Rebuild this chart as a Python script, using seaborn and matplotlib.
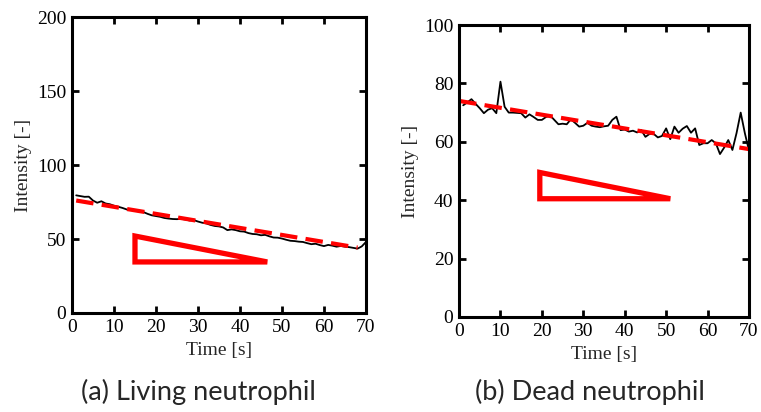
import numpy as np
import pandas as pd
import matplotlib
matplotlib.use("Agg")
import matplotlib.pyplot as plt
import seaborn as sns

# time axis (s)
time_s = list(range(1, 71))

# (a) living neutrophil intensity
living = [79.5, 79, 78.5, 78.6, 76, 74.5, 75.5, 74, 73.5, 72.5,
          71.8, 71, 70, 69.6, 69.4, 68.5, 68.2, 67, 66, 65.5,
          65, 64.2, 63.8, 63.5, 63.4, 63.6, 63.2, 62.5, 62.8, 61.8,
          61, 60.5, 59.5, 58.8, 58.5, 57.8, 56, 56.5, 56, 55.2,
          55, 54, 53.4, 53.2, 52.5, 52.8, 51.8, 51, 50.9, 50.3,
          49.5, 48.8, 48.6, 48.2, 48, 47.2, 46.5, 46.8, 45.9, 45.2,
          46, 45.5, 44.8, 45.3, 44.8, 44.5, 44, 43.5, 45, 48]

# (b) dead neutrophil intensity
dead = [72.5, 73.5, 74.6, 73, 71.5, 69.8, 71, 71.5, 69.8, 80.6,
        72, 70, 70, 69.9, 69.8, 68.3, 69.4, 68.5, 67.5, 67.5,
        68.5, 69, 67.5, 66, 66.2, 66, 67.7, 66.5, 65.2, 65.5,
        66.5, 65.5, 65.2, 65, 65.3, 65.5, 67.5, 68.6, 64, 64.2,
        63.5, 63.8, 63.2, 64, 61.7, 62.7, 62.7, 61.5, 62, 64.6,
        60.9, 65.2, 63.1, 64.5, 65.4, 63.1, 64.6, 58.9, 59.5, 59.5,
        60.6, 59.5, 55.8, 58, 60.6, 57.2, 63, 70, 63, 57]

# linear fits (red dashed)
fit_a_t = [1, 68]
fit_a_y = [76, 44.2]
fit_b_t = [0, 70]
fit_b_y = [74, 57.5]

# slope triangles
tri_a_t = [15, 15, 46.5]
tri_a_y = [52, 34.5, 34.5]
tri_b_t = [19.5, 19.5, 51]
tri_b_y = [49.5, 40.5, 40.5]

sns.set_style("ticks")
plt.rcParams['font.family'] = ['Liberation Serif', 'DejaVu Serif']

fig = plt.figure(figsize=(7.61, 4.12), dpi=100)
ax_a = fig.add_axes([0.0946, 0.2403, 0.3863, 0.7184])
ax_b = fig.add_axes([0.6032, 0.2306, 0.3810, 0.7087])

panels = [
    (ax_a, living, fit_a_t, fit_a_y, tri_a_t, tri_a_y, 200, 50),
    (ax_b, dead, fit_b_t, fit_b_y, tri_b_t, tri_b_y, 100, 20),
]

for ax, vals, ft, fy, tt, ty, ymax, ystep in panels:
    df = pd.DataFrame({"t": time_s, "v": vals})
    sns.lineplot(data=df, x="t", y="v", ax=ax, color="black", lw=1.3)
    ax.plot(ft, fy, color="red", lw=3, dashes=(4.2, 2.0))
    ax.fill(tt, ty, fill=False, edgecolor="red", lw=3.8, joinstyle="miter")
    ax.set_xlim(0, 70)
    ax.set_ylim(0, ymax)
    ax.set_xticks(np.arange(0, 71, 10))
    ax.set_yticks(np.arange(0, ymax + 1, ystep))
    ax.set_xlabel("Time [s]", fontsize=14, labelpad=5)
    ax.set_ylabel("Intensity [-]", fontsize=14, labelpad=4)
    ax.tick_params(direction="in", length=5, width=2, labelsize=14,
                   top=True, right=True, pad=4, colors="black")
    for sp in ax.spines.values():
        sp.set_visible(True)
        sp.set_linewidth(2.2)
        sp.set_color("black")

fig.text(198 / 761, 1 - 392 / 412, "(a) Living neutrophil", ha="center",
         va="center", fontsize=19.5, family=["Lato", "DejaVu Sans"])
fig.text(590 / 761, 1 - 392 / 412, "(b) Dead neutrophil", ha="center",
         va="center", fontsize=19.5, family=["Lato", "DejaVu Sans"])

fig.savefig("out.png", dpi=100)
